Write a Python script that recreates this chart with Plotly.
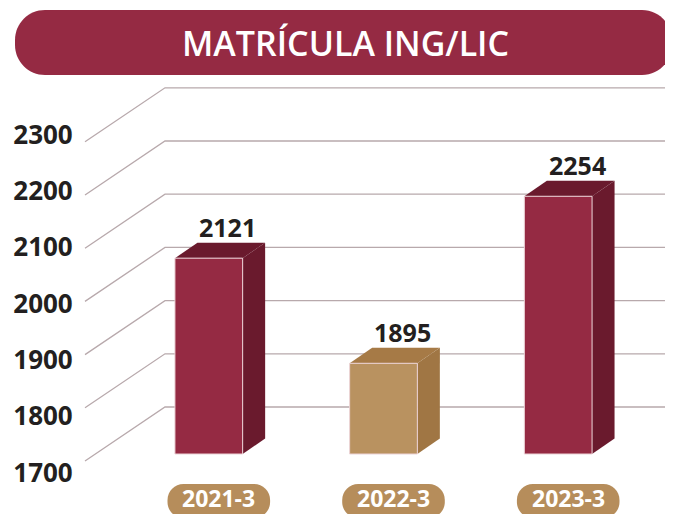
import plotly.graph_objects as go

# ---------------- data ----------------
categories = ["2021-3", "2022-3", "2023-3"]
values = [2121, 1895, 2254]
tick_values = [1700, 1800, 1900, 2000, 2100, 2200, 2300]
tick_labels = ["1700", "1800", "1900", "2000", "2100", "2200", "2300"]
title_text = "MATRÍCULA ING/LIC"

# ---------------- layout constants ----------------
W, H = 673, 514
OFF = 8                      # default page body margin of the browser
FW, FH = W - OFF, H - OFF    # figure size so it fits the window exactly
FONT = "Open Sans"
MAROON = "#952a43"
MAROON_DARK = "#6a1a2d"
GOLD = "#b99260"
GOLD_SIDE = "#a07644"
GOLD_TOP = "#a67a46"
PILL_GOLD = "#b68d5b"
GRID = "#b8a9ac"
TEXT = "#231f20"

# positions below are given in window pixels, converted to figure pixels
X_FIRST_PX, X_STEP_PX = 208.8 - OFF, 174.7
x_range = [-X_FIRST_PX / X_STEP_PX, (FW - X_FIRST_PX) / X_STEP_PX]


def px2x(px):
    return (px - OFF - X_FIRST_PX) / X_STEP_PX


def py2paper(py):
    return 1 - (py - OFF) / FH


def px2paper(px):
    return (px - OFF) / FW


base = tick_values[0]


def make_range(k, base_py):
    lo = base - (FH - (base_py - OFF)) / k
    return [lo, lo + FH / k]


BAR_K = 0.4652
bar_range = make_range(BAR_K, 454)
GRID_K = 0.532
grid_range = make_range(GRID_K, 461)
GRID_DEPTH = 54 / GRID_K
LAB_K = 0.5633
lab_range = make_range(LAB_K, 475)

BAR_W = 67.7 / X_STEP_PX
DX = 22.5 / X_STEP_PX
DY = 15.5 / BAR_K

fig = go.Figure()

# ---- perspective grid (main axes) ----
gx, gy = [], []
xf, xb, xr = px2x(85), px2x(165), x_range[1] + 0.2
for v in tick_values:
    gx += [xf, xb, xr, None]
    gy += [v, v + GRID_DEPTH, v + GRID_DEPTH, None]
fig.add_trace(go.Scatter(x=gx, y=gy, mode="lines", line=dict(color=GRID, width=1.3),
                         hoverinfo="skip", xaxis="x", yaxis="y"))

# ---- tick labels ----
fig.add_trace(go.Scatter(x=[px2x(43)] * len(tick_values), y=tick_values, text=tick_labels,
                         mode="text", textposition="middle center", cliponaxis=False,
                         textfont=dict(family=FONT, size=26, color=TEXT, weight=700),
                         hoverinfo="skip", xaxis="x", yaxis="y2"))

# ---- bar sides and tops ----
for i, v in enumerate(values):
    highlight = (i == 1)
    side_c = GOLD_SIDE if highlight else MAROON_DARK
    top_c = GOLD_TOP if highlight else MAROON_DARK
    left, right = i - BAR_W / 2, i + BAR_W / 2
    fig.add_trace(go.Scatter(
        x=[right, right + DX, right + DX, right, right],
        y=[base, base + DY, v + DY, v, base],
        mode="lines", fill="toself", fillcolor=side_c, line=dict(width=0, color=side_c),
        hoverinfo="skip", xaxis="x", yaxis="y3"))
    fig.add_trace(go.Scatter(
        x=[left, left + DX, right + DX, right, left],
        y=[v, v + DY, v + DY, v, v],
        mode="lines", fill="toself", fillcolor=top_c, line=dict(width=0, color=top_c),
        hoverinfo="skip", xaxis="x", yaxis="y3"))

# ---- bar fronts ----
fig.add_trace(go.Bar(
    x=list(range(len(values))), y=[v - base for v in values], base=base, width=BAR_W,
    marker=dict(color=[GOLD if i == 1 else MAROON for i in range(len(values))],
                line=dict(color="#ecd3d7", width=1)),
    hoverinfo="skip", xaxis="x", yaxis="y4"))

# ---- value labels ----
for i, v in enumerate(values):
    fig.add_annotation(x=i + 19 / X_STEP_PX, y=v, xref="x", yref="y4", yshift=31,
                       text=f"{v}", showarrow=False, yanchor="middle", xanchor="center",
                       font=dict(family=FONT, size=25, color=TEXT, weight=700))


def pill_path(a, b, r):
    k = 0.5523 * r
    return (f"M {-a + r},{-b} L {a - r},{-b} "
            f"C {a - r + k},{-b} {a},{-b + r - k} {a},{-b + r} "
            f"L {a},{b - r} C {a},{b - r + k} {a - r + k},{b} {a - r},{b} "
            f"L {-a + r},{b} C {-a + r - k},{b} {-a},{b - r + k} {-a},{b - r} "
            f"L {-a},{-b + r} C {-a},{-b + r - k} {-a + r - k},{-b} {-a + r},{-b} Z")


# ---- category pills ----
for i, c in enumerate(categories):
    cx = i + 10 / X_STEP_PX
    fig.add_shape(type="path", xref="x", yref="paper", xsizemode="pixel", ysizemode="pixel",
                  xanchor=cx, yanchor=py2paper(501), path=pill_path(51.3, 17, 16),
                  fillcolor=PILL_GOLD, line=dict(width=0), layer="above")
    fig.add_annotation(x=cx, y=py2paper(498), xref="x", yref="paper", text=c,
                       showarrow=False, xanchor="center", yanchor="middle", borderpad=0,
                       font=dict(family=FONT, size=23, color="white", weight=700))

# ---- title pill ----
fig.add_shape(type="path", xref="paper", yref="paper", xsizemode="pixel", ysizemode="pixel",
              xanchor=px2paper(343.5), yanchor=py2paper(42.5), path=pill_path(328.5, 32.5, 30),
              fillcolor=MAROON, line=dict(width=0), layer="above")
fig.add_annotation(x=px2paper(345), y=py2paper(43), xref="paper", yref="paper", text=title_text,
                   showarrow=False, xanchor="center", yanchor="middle",
                   font=dict(family=FONT, size=34, color="white", weight=600))

hidden = dict(visible=False, fixedrange=True)
fig.update_layout(
    width=FW, height=FH, margin=dict(l=0, r=0, t=0, b=0, autoexpand=False),
    paper_bgcolor="white", plot_bgcolor="white", showlegend=False,
    xaxis=dict(range=x_range, **hidden),
    yaxis=dict(range=grid_range, **hidden),
    yaxis2=dict(range=lab_range, overlaying="y", **hidden),
    yaxis3=dict(range=bar_range, overlaying="y", **hidden),
    yaxis4=dict(range=bar_range, overlaying="y", **hidden),
)

fig.write_html("out.html")
